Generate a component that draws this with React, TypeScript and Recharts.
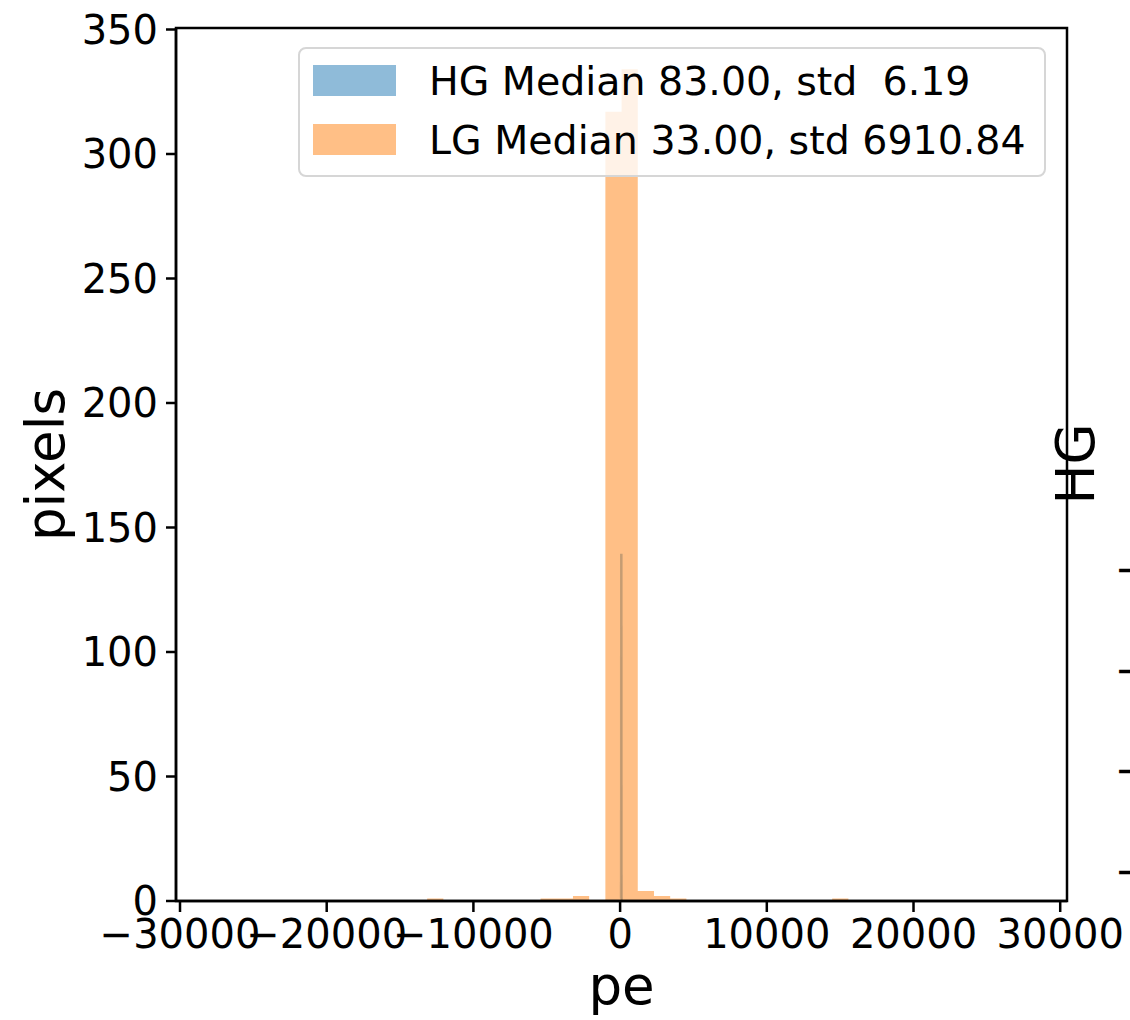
import React from 'react';
import { ComposedChart, Area, XAxis, YAxis, ReferenceArea } from 'recharts';

// LG histogram: bin edges (pe) and pixel counts per bin
const lgEdges = [
  -13152, -12048, -10944, -9839, -8735, -7631, -6526, -5422, -4317, -3213, -2109, -1004, 100, 1204,
  2309, 3413, 4517, 5622, 6726, 7830, 8935, 10039, 11144, 12248, 13352, 14457, 15561,
];
const lgCounts = [1, 0, 0, 0, 0, 0, 0, 1, 1, 2, 0, 317, 334, 4, 2, 1, 0, 0, 0, 0, 0, 0, 0, 0, 0, 1];

// HG histogram: very narrow around the median 83
const hgEdges = [60, 65, 70, 75, 80, 85, 90, 95, 100, 105];
const hgCounts = [1, 7, 36, 98, 139, 110, 46, 10, 1];

const xTicks = [-30000, -20000, -10000, 0, 10000, 20000, 30000];
const yTicks = [0, 50, 100, 150, 200, 250, 300, 350];
const xDomain: [number, number] = [-30273, 30463];
const yDomain: [number, number] = [0, 350.6];

const legendItems = [
  { label: 'HG Median 83.00, std  6.19', color: '#8fbbd9' },
  { label: 'LG Median 33.00, std 6910.84', color: '#ffbf86' },
];

// stubs of the neighbouring subplot cut off at the right edge
const sideTickRows = [570.7, 671.7, 771.7, 872];

const toSteps = (edges: number[], counts: number[]) =>
  edges.map((x, i) => ({ x, count: i < counts.length ? counts[i] : 0 }));

const fmt = (v: number) => (v < 0 ? '\u2212' + Math.abs(v) : String(v));

const FONT = "'DejaVu Sans', sans-serif";

const App: React.FC = () => {
  const lgData = toSteps(lgEdges, lgCounts);
  const hgData = toSteps(hgEdges, hgCounts);

  return (
    <div
      style={{
        position: 'absolute',
        left: 0,
        top: 0,
        width: 1130,
        height: 1020,
        overflow: 'hidden',
        background: '#fff',
        fontFamily: FONT,
      }}
    >
      <ComposedChart width={1130} height={1020} margin={{ top: 28, right: 63, left: 0, bottom: 0 }}>
        <XAxis
          dataKey="x"
          type="number"
          domain={xDomain}
          allowDataOverflow
          ticks={xTicks}
          tickFormatter={fmt}
          height={119}
          tickSize={11}
          tickMargin={8}
          axisLine={{ stroke: '#000', strokeWidth: 2.5 }}
          tickLine={{ stroke: '#000', strokeWidth: 2.5 }}
          tick={{ fontSize: 40, fill: '#000', fontFamily: FONT }}
          interval={0}
          label={{
            content: (p: any) => {
              const vb = p.viewBox || { x: 176, y: 901, width: 891 };
              return (
                <text x={vb.x + vb.width / 2} y={vb.y + 103} textAnchor="middle" fontSize={53} fill="#000" fontFamily={FONT}>
                  pe
                </text>
              );
            },
          }}
        />
        <YAxis
          type="number"
          domain={yDomain}
          allowDataOverflow
          ticks={yTicks}
          width={176}
          tickSize={10}
          tickMargin={8}
          axisLine={{ stroke: '#000', strokeWidth: 2.5 }}
          tickLine={{ stroke: '#000', strokeWidth: 2.5 }}
          tick={{ fontSize: 40, fill: '#000', fontFamily: FONT }}
          interval={0}
          label={{
            content: (p: any) => {
              const vb = p.viewBox || { x: 0, y: 28, height: 873 };
              const cx = vb.x + 64;
              const cy = vb.y + vb.height / 2;
              return (
                <text x={cx} y={cy} transform={`rotate(-90 ${cx} ${cy})`} textAnchor="middle" fontSize={53} fill="#000" fontFamily={FONT}>
                  pixels
                </text>
              );
            },
          }}
        />
        <Area
          data={hgData}
          dataKey="count"
          type="stepAfter"
          fill="#1f77b4"
          fillOpacity={0.5}
          stroke="#1f77b4"
          strokeOpacity={0.5}
          strokeWidth={2.5}
          dot={false}
          activeDot={false}
          isAnimationActive={false}
        />
        <Area
          data={lgData}
          dataKey="count"
          type="stepAfter"
          fill="#ff7f0e"
          fillOpacity={0.5}
          stroke="none"
          dot={false}
          activeDot={false}
          isAnimationActive={false}
        />
        <ReferenceArea
          x1={xDomain[0]}
          x2={xDomain[1]}
          y1={yDomain[0]}
          y2={yDomain[1]}
          fill="none"
          stroke="#000"
          strokeWidth={2.5}
          ifOverflow="visible"
        />
      </ComposedChart>

      <svg width={1130} height={1020} style={{ position: 'absolute', left: 0, top: 0, pointerEvents: 'none' }}>
        <text x={1094} y={464} transform="rotate(-90 1094 464)" textAnchor="middle" fontSize={53} fill="#000" fontFamily={FONT}>
          HG
        </text>
        {sideTickRows.map((y, i) => (
          <text key={i} x={1115} y={y + 12.5} fontSize={40} fill="#000" fontFamily={FONT}>
            {'\u2212'}
          </text>
        ))}
      </svg>

      <div
        style={{
          position: 'absolute',
          left: 298,
          top: 47,
          width: 748,
          height: 130,
          boxSizing: 'border-box',
          border: '2px solid #d6d6d6',
          borderRadius: 8,
          background: 'rgba(255,255,255,0.8)',
        }}
      >
        {legendItems.map((item, i) => (
          <React.Fragment key={item.label}>
            <div
              style={{
                position: 'absolute',
                left: 13,
                top: 16 + i * 59,
                width: 83,
                height: 31,
                background: item.color,
              }}
            />
            <div
              style={{
                position: 'absolute',
                left: 129,
                top: 12 + i * 59,
                fontSize: 39.5,
                lineHeight: '40px',
                whiteSpace: 'pre',
                color: '#000',
              }}
            >
              {item.label}
            </div>
          </React.Fragment>
        ))}
      </div>
    </div>
  );
};

export default App;
